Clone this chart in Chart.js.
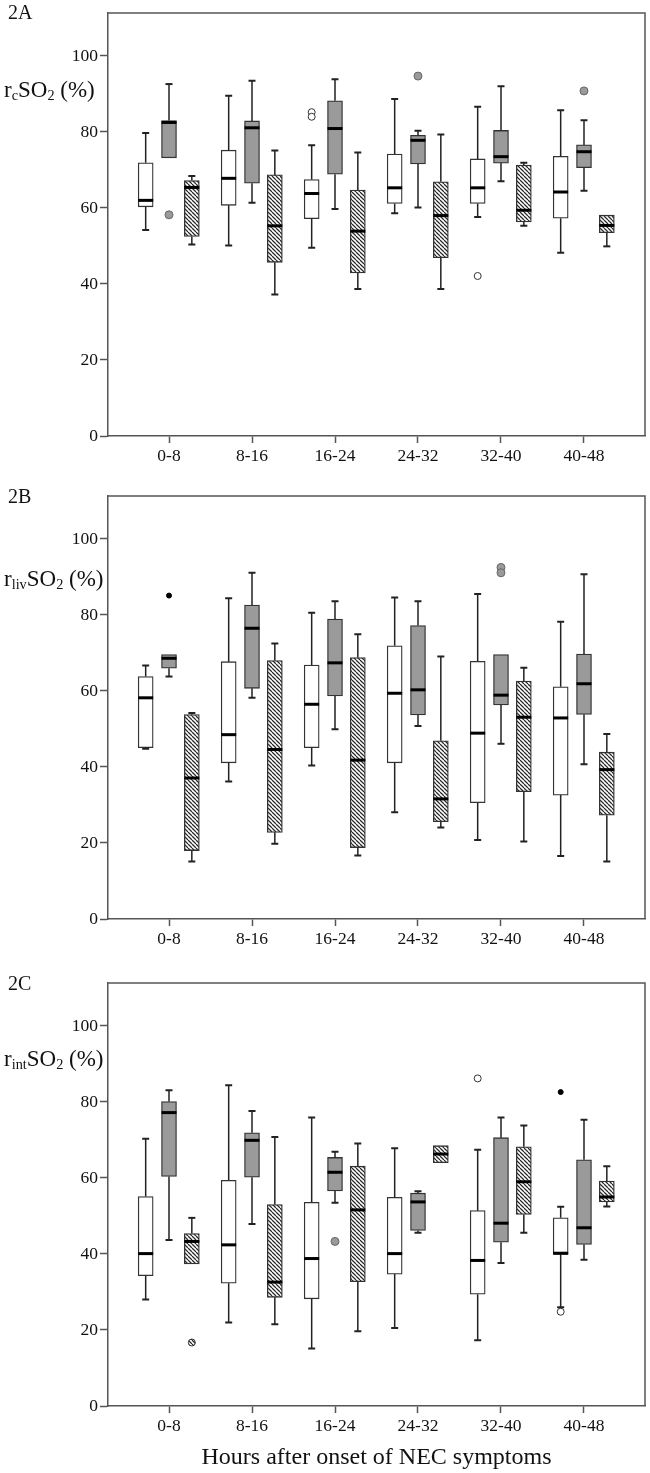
<!DOCTYPE html>
<html>
<head>
<meta charset="utf-8">
<script src="https://cdn.jsdelivr.net/npm/chart.js@4.4.1/dist/chart.umd.min.js"></script>
<style>
  body { margin: 0; background: #fff; width: 650px; height: 1473px; position: relative; overflow: hidden;
         font-family: 'Liberation Serif', 'Times New Roman', serif; color: #111; }
  .panel { position: absolute; left: 0; width: 650px; }
  .panel canvas { display: block; }
  .tag { position: absolute; left: 8px; font-size: 20px; line-height: 1; }
  .ylab { position: absolute; left: 4px; font-size: 23px; line-height: 1; white-space: nowrap; }
  .ylab sub { font-size: 0.62em; vertical-align: -0.22em; line-height: 0; }
</style>
</head>
<body>
<div class="panel" style="top:0;height:480px">
  <canvas id="chartA" width="650" height="480"></canvas>
  <div class="tag" style="top:2px">2A</div>
  <div class="ylab" style="top:78px">r<sub>c</sub>SO<sub>2</sub> (%)</div>
</div>
<div class="panel" style="top:480px;height:480px">
  <canvas id="chartB" width="650" height="480"></canvas>
  <div class="tag" style="top:6px">2B</div>
  <div class="ylab" style="top:87px">r<sub>liv</sub>SO<sub>2</sub> (%)</div>
</div>
<div class="panel" style="top:960px;height:513px">
  <canvas id="chartC" width="650" height="513"></canvas>
  <div class="tag" style="top:13px">2C</div>
  <div class="ylab" style="top:87px">r<sub>int</sub>SO<sub>2</sub> (%)</div>
</div>
<script>
const categories = ['0-8', '8-16', '16-24', '24-32', '32-40', '40-48'];
const yTicks = [0, 20, 40, 60, 80, 100];
const groupOffsets = [-0.281, 0, 0.275];

// box stats per interval: [min, q1, median, q3, max]
const aWhite = [[54.2, 60.3, 62.0, 71.9, 79.7], [50.1, 60.7, 67.8, 75.2, 89.5], [49.5, 57.2, 63.8, 67.5, 76.5],
                [58.6, 61.2, 65.3, 74.2, 88.7], [57.6, 61.2, 65.3, 72.9, 86.6], [48.2, 57.3, 64.2, 73.6, 85.7]];
const aGray = [[73.2, 73.2, 82.5, 83.0, 92.6], [61.4, 66.5, 81.1, 82.9, 93.5], [59.7, 68.9, 80.9, 88.2, 93.9],
               [60.1, 71.6, 77.8, 79.1, 80.3], [67.0, 71.8, 73.5, 80.4, 92.0], [64.5, 70.6, 74.8, 76.6, 83.1]];
const aHatch = [[50.4, 52.5, 65.4, 67.2, 68.4], [37.2, 45.7, 55.3, 68.7, 75.1], [38.7, 42.9, 53.9, 64.7, 74.6],
                [38.7, 46.9, 58.0, 66.9, 79.3], [55.3, 56.3, 59.4, 71.3, 71.9], [49.9, 53.5, 55.4, 58.1, 58.1]];
// outliers: [interval index, value]
const aWhiteOut = [[2, 85.2], [2, 84.0], [4, 42.1]];
const aGrayOut = [[0, 58.2], [3, 94.7], [5, 90.8]];

const bWhite = [[44.8, 45.1, 58.2, 63.8, 66.7], [36.2, 41.1, 48.5, 67.7, 84.4], [40.4, 45.1, 56.5, 66.8, 80.6],
                [28.1, 41.1, 59.4, 71.9, 84.6], [20.8, 30.6, 48.9, 67.8, 85.5], [16.6, 32.6, 52.9, 61.1, 78.2]];
const bGray = [[63.8, 66.0, 68.6, 69.6, 69.6], [58.2, 60.7, 76.5, 82.6, 91.1], [49.9, 58.7, 67.4, 78.9, 83.6],
               [50.8, 53.7, 60.3, 77.2, 83.6], [46.1, 56.3, 58.9, 69.6, 69.6], [40.7, 53.8, 61.9, 69.7, 90.7]];
const bHatch = [[15.1, 18.0, 37.1, 53.8, 54.2], [19.8, 22.8, 44.6, 68.0, 72.5], [16.7, 18.8, 41.8, 68.8, 74.9],
                [24.1, 25.6, 31.6, 46.9, 69.1], [20.4, 33.5, 53.1, 62.6, 66.1], [15.1, 27.3, 39.3, 43.9, 48.7]];
const bGrayOut = [[4, 92.5], [4, 91.1]];
const bGrayExt = [[0, 85.1]];

const cWhite = [[28.0, 34.3, 40.1, 55.1, 70.3], [22.0, 32.3, 42.4, 59.4, 84.4], [15.1, 28.2, 38.8, 53.6, 75.9],
                [20.5, 34.7, 40.1, 54.9, 67.8], [17.3, 29.4, 38.3, 51.4, 67.4], [26.0, 39.9, 40.2, 49.5, 52.4]];
const cGray = [[43.7, 60.4, 77.2, 80.1, 83.1], [47.9, 60.2, 69.9, 71.9, 77.6], [53.5, 56.6, 61.5, 65.4, 66.9],
               [45.6, 46.2, 53.7, 56.0, 56.5], [37.6, 43.1, 48.1, 70.6, 75.9], [38.5, 42.5, 46.9, 64.8, 75.3]];
const cHatch = [[37.4, 37.4, 43.3, 45.4, 49.5], [21.5, 28.6, 32.6, 53.0, 70.8], [19.7, 32.7, 51.6, 63.1, 69.1],
                [64.0, 64.0, 66.3, 68.5, 68.5], [45.6, 50.4, 59.0, 68.2, 73.8], [52.5, 53.7, 55.0, 59.2, 63.1]];
const cWhiteOut = [[4, 86.2], [5, 24.8]];
const cWhiteExt = [[5, 82.6]];
const cGrayOut = [[2, 43.3]];
const cHatchOut = [[0, 16.7]];

const serif = "'Liberation Serif', 'Times New Roman', serif";

function hatchPattern() {
    const c = document.createElement('canvas');
    c.width = 4; c.height = 4;
    const g = c.getContext('2d');
    g.fillStyle = '#fff';
    g.fillRect(0, 0, 4, 4);
    g.strokeStyle = '#2a2a2a';
    g.lineWidth = 1.25;
    g.beginPath();
    [-4, 0, 4].forEach(k => { g.moveTo(k, 0); g.lineTo(k + 4, 4); });
    g.stroke();
    return g.createPattern(c, 'repeat');
}
const hatch = hatchPattern();
const boxFills = ['#ffffff', '#9a9a9a', hatch];

// whiskers, caps, medians and the top/right frame
const boxPlotExtras = {
    id: 'boxPlotExtras',
    afterDatasetsDraw(chart, args, opts) {
        const {ctx, chartArea: a, scales: {x, y}} = chart;
        ctx.save();
        opts.groups.forEach((stats, g) => {
            stats.forEach((s, i) => {
                const px = x.getPixelForValue(i + groupOffsets[g]);
                const [mn, q1, md, q3, mx] = s.map(v => y.getPixelForValue(v));
                ctx.strokeStyle = '#222';
                ctx.lineWidth = 1.5;
                ctx.beginPath();
                if (s[0] < s[1]) { ctx.moveTo(px, q1); ctx.lineTo(px, mn); }
                if (s[4] > s[3]) { ctx.moveTo(px, q3); ctx.lineTo(px, mx); }
                ctx.stroke();
                ctx.lineWidth = 2;
                ctx.beginPath();
                if (s[0] < s[1]) { ctx.moveTo(px - 3.5, mn); ctx.lineTo(px + 3.5, mn); }
                if (s[4] > s[3]) { ctx.moveTo(px - 3.5, mx); ctx.lineTo(px + 3.5, mx); }
                ctx.stroke();
                ctx.strokeStyle = '#000';
                ctx.lineWidth = 3;
                ctx.beginPath();
                ctx.moveTo(px - 7.5, md);
                ctx.lineTo(px + 7.5, md);
                ctx.stroke();
            });
        });
        ctx.strokeStyle = '#555';
        ctx.lineWidth = 1.5;
        ctx.beginPath();
        ctx.moveTo(a.left, a.top);
        ctx.lineTo(a.right, a.top);
        ctx.lineTo(a.right, a.bottom);
        ctx.stroke();
        ctx.restore();
    }
};

function outlierSet(points, group, style) {
    const looks = {
        open: {r: 3.5, bg: '#fff', bd: '#333'},
        gray: {r: 4, bg: '#9a9a9a', bd: '#666'},
        hatch: {r: 3.5, bg: hatch, bd: '#333'},
        extreme: {r: 2.5, bg: '#000', bd: '#000'}
    }[style];
    return {
        type: 'scatter',
        data: points.map(p => ({x: p[0] + groupOffsets[group], y: p[1]})),
        pointRadius: looks.r,
        backgroundColor: looks.bg,
        borderColor: looks.bd,
        borderWidth: 1,
        order: 1
    };
}

function makePanel(id, groups, outliers, opts) {
    const datasets = groups.map((stats, g) => ({
        type: 'bar',
        data: stats.map((s, i) => ({x: i + groupOffsets[g], y: [s[1], s[3]]})),
        backgroundColor: boxFills[g],
        borderColor: '#333',
        borderWidth: 1.3,
        borderSkipped: false,
        barThickness: 15,
        grouped: false,
        order: 2
    })).concat(outliers);

    const axisLine = {color: '#555', width: 1.5};
    const tickFont = {family: serif, size: 17.5};

    new Chart(document.getElementById(id), {
        type: 'bar',
        data: {datasets: datasets},
        options: {
            responsive: false,
            animation: false,
            events: [],
            layout: {padding: {top: opts.top, right: 1.5, left: 0, bottom: 0}},
            plugins: {
                legend: {display: false},
                tooltip: {enabled: false},
                boxPlotExtras: {groups: groups}
            },
            scales: {
                x: {
                    type: 'linear',
                    offset: false,
                    min: -0.735,
                    max: 5.735,
                    afterBuildTicks: s => { s.ticks = categories.map((c, i) => ({value: i})); },
                    afterFit: s => { s.height = opts.xHeight; },
                    ticks: {
                        callback: v => categories[v],
                        color: '#111',
                        font: tickFont,
                        padding: 3,
                        autoSkip: false,
                        maxRotation: 0
                    },
                    grid: {offset: false, drawOnChartArea: false, tickLength: 7, tickColor: '#555', tickWidth: 1.5},
                    border: axisLine,
                    title: {
                        display: !!opts.xTitle,
                        text: opts.xTitle || '',
                        color: '#111',
                        font: {family: serif, size: 24, lineHeight: 1},
                        padding: {top: 4, bottom: 3}
                    }
                },
                y: {
                    min: 0,
                    max: 111.3,
                    afterBuildTicks: s => { s.ticks = yTicks.map(v => ({value: v})); },
                    afterFit: s => { s.width = 108; },
                    ticks: {color: '#111', font: tickFont, padding: 2},
                    grid: {drawOnChartArea: false, tickLength: 8, tickColor: '#555', tickWidth: 1.5},
                    border: axisLine
                }
            }
        },
        plugins: [boxPlotExtras]
    });
}

makePanel('chartA', [aWhite, aGray, aHatch], [
    outlierSet(aWhiteOut, 0, 'open'),
    outlierSet(aGrayOut, 1, 'gray')
], {top: 13, xHeight: 44});

makePanel('chartB', [bWhite, bGray, bHatch], [
    outlierSet(bGrayOut, 1, 'gray'),
    outlierSet(bGrayExt, 1, 'extreme')
], {top: 16, xHeight: 41});

makePanel('chartC', [cWhite, cGray, cHatch], [
    outlierSet(cWhiteOut, 0, 'open'),
    outlierSet(cWhiteExt, 0, 'extreme'),
    outlierSet(cGrayOut, 1, 'gray'),
    outlierSet(cHatchOut, 2, 'hatch')
], {top: 23, xHeight: 67, xTitle: 'Hours after onset of NEC symptoms'});
</script>
</body>
</html>
